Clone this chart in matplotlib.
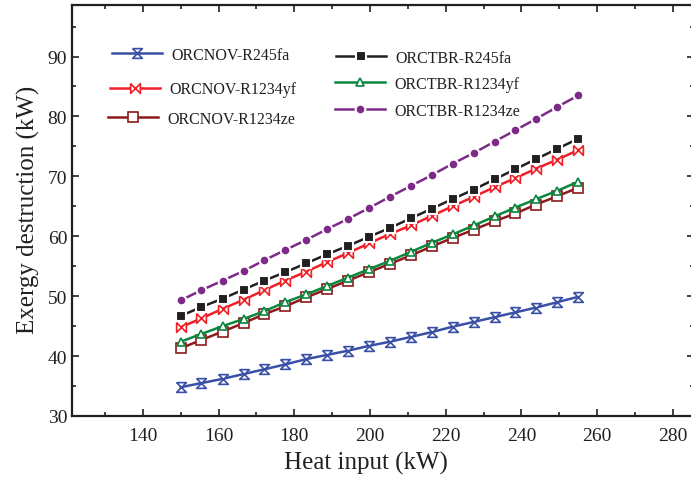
import matplotlib
matplotlib.use("Agg")
import matplotlib.pyplot as plt
from matplotlib.ticker import MultipleLocator

# heat input (kW)
heat_input = [150, 155.5, 161.1, 166.6, 172.1, 177.6, 183.2, 188.7, 194.2, 199.7,
              205.3, 210.8, 216.3, 221.8, 227.4, 232.9, 238.4, 243.9, 249.5, 255]

# exergy destruction (kW)
nov_r245fa = [34.8, 35.5, 36.2, 37.0, 37.8, 38.6, 39.5, 40.2, 40.9, 41.7,
              42.4, 43.2, 44.0, 44.9, 45.7, 46.5, 47.3, 48.1, 49.0, 49.9]
nov_r1234yf = [44.8, 46.3, 47.9, 49.4, 51.0, 52.6, 54.1, 55.7, 57.2, 58.8,
               60.4, 61.8, 63.4, 65.0, 66.6, 68.2, 69.7, 71.3, 72.8, 74.4]
nov_r1234ze = [41.3, 42.7, 44.1, 45.5, 47.0, 48.3, 49.8, 51.2, 52.6, 54.0,
               55.4, 56.8, 58.3, 59.7, 61.1, 62.5, 63.8, 65.3, 66.7, 68.1]
tbr_r245fa = [46.7, 48.2, 49.6, 51.1, 52.6, 54.0, 55.5, 57.0, 58.4, 59.9,
              61.4, 63.0, 64.6, 66.2, 67.8, 69.5, 71.2, 72.9, 74.6, 76.3]
tbr_r1234yf = [42.4, 43.7, 45.0, 46.2, 47.5, 49.0, 50.3, 51.7, 53.1, 54.5,
               55.9, 57.4, 58.9, 60.3, 61.8, 63.3, 64.8, 66.2, 67.6, 69.1]
tbr_r1234ze = [49.3, 51.0, 52.6, 54.2, 56.0, 57.7, 59.4, 61.2, 62.9, 64.7,
               66.6, 68.4, 70.2, 72.1, 73.9, 75.8, 77.7, 79.6, 81.6, 83.5]

labels = ["ORCNOV-R245fa", "ORCNOV-R1234yf", "ORCNOV-R1234ze",
          "ORCTBR-R245fa", "ORCTBR-R1234yf", "ORCTBR-R1234ze"]

plt.rcParams['font.family'] = ['Liberation Serif', 'DejaVu Serif']

# custom markers: hourglass and bowtie
hourglass = [(-1, 1), (1, 1), (-1, -1), (1, -1), (-1, 1)]
bowtie = [(-1, 1), (1, -1), (1, 1), (-1, -1), (-1, 1)]

W, H = 691, 481
fig = plt.figure(figsize=(W / 100, H / 100), dpi=100)
ax = fig.add_axes([72 / W, 1 - 417 / H, 1.005 - 72 / W, (417 - 6) / H])

lw = 1.8
styles = [
    dict(color='#3a4fa6', marker=hourglass, ms=7, mfc='white', mec='#3a4fa6', mew=1.2),
    dict(color='#ee1f26', marker=bowtie, ms=7, mfc='white', mec='#ee1f26', mew=1.2),
    dict(color='#8b1a1c', marker='s', ms=6.5, mfc='white', mec='#8b1a1c', mew=1.2),
    dict(color='#231f20', marker='s', ms=7, mfc='#231f20', mec='white', mew=1.5),
    dict(color='#08883f', marker='^', ms=6, mfc='white', mec='#08883f', mew=1.2),
    dict(color='#7d2a88', marker='o', ms=7, mfc='#7d2a88', mec='white', mew=1.5),
]
series = [nov_r245fa, nov_r1234yf, nov_r1234ze, tbr_r245fa, tbr_r1234yf, tbr_r1234ze]
lines = []
for ys, st, lab in zip(series, styles, labels):
    ln, = ax.plot(heat_input, ys, lw=lw, label=lab, **st)
    lines.append(ln)

ax.set_xlim(121.3, 285.7)
ax.set_ylim(30, 98.6)
ax.xaxis.set_major_locator(MultipleLocator(20))
ax.xaxis.set_minor_locator(MultipleLocator(10))
ax.yaxis.set_major_locator(MultipleLocator(10))
ax.yaxis.set_minor_locator(MultipleLocator(5))
ax.tick_params(which='both', direction='in', top=True, right=True, labelsize=14,
               width=1.2, colors='#231f20', labelcolor='#231f20')
ax.tick_params(which='major', length=5)
ax.tick_params(which='minor', length=3)
ax.tick_params(axis='x', pad=8)
for sp in ax.spines.values():
    sp.set_linewidth(1.6)
    sp.set_color('#231f20')

ax.set_xlabel("Heat input (kW)", fontsize=18, color='#231f20')
ax.set_ylabel("Exergy destruction (kW)", fontsize=18, color='#231f20')
ax.xaxis.set_label_coords((366 - 72) / (W * 1.005 - 72), -0.085)
ax.yaxis.set_label_coords((40 - 72) / (W * 1.005 - 72), 0.505)

# legend entries placed one by one (uneven spacing in the original)
entry_pos = [(112, 56), (110.5, 90.5), (108, 120), (336, 59), (335, 85), (335, 112)]
for ln, (px, py) in zip(lines, entry_pos):
    fig.legend(handles=[ln], loc='center left', frameon=False,
               bbox_to_anchor=(px / W, 1 - py / H),
               borderpad=0, borderaxespad=0, handlelength=3.1, handletextpad=0.6,
               fontsize=11.5, labelcolor='#231f20')

fig.savefig("out.png", dpi=100)
